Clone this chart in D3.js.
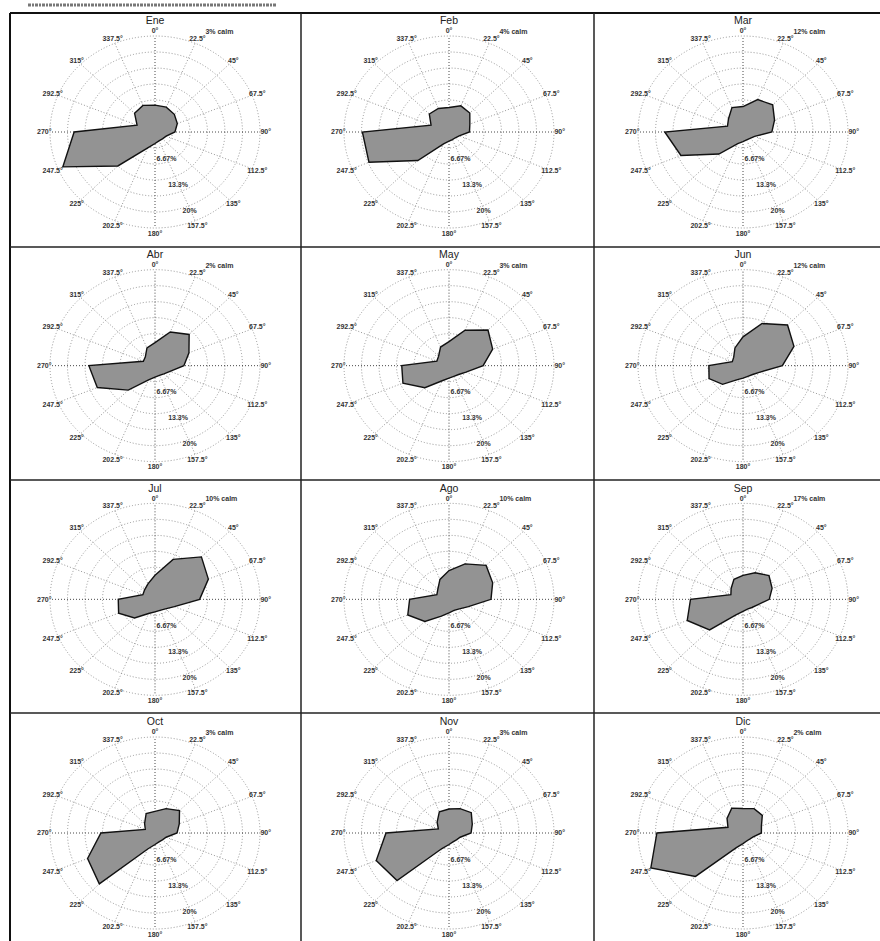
<!DOCTYPE html>
<html>
<head>
<meta charset="utf-8">
<script src="https://cdn.jsdelivr.net/npm/d3@7"></script>
<style>
body { margin: 0; background: #fff; }
svg { opacity: 0.999; }
text { font-family: Arial, "Liberation Sans", sans-serif; }
</style>
</head>
<body>
<script>
// wind direction frequency (%) per month, 16 sectors starting at north
var months = ["Ene","Feb","Mar","Abr","May","Jun","Jul","Ago","Sep","Oct","Nov","Dic"];
var directions = [0,22.5,45,67.5,90,112.5,135,157.5,180,202.5,225,247.5,270,292.5,315,337.5];

var ene = [5.6,5.6,5.2,4.6,3.8,2.3,2.0,2.0,2.4,3.6,10.0,19.0,15.4,3.7,5.5,6.0];
var feb = [5.1,5.9,5.6,4.3,3.9,2.1,1.7,1.7,1.9,2.7,8.4,16.5,16.5,3.7,5.3,5.3];
var mar = [5.3,7.3,8.0,6.5,5.5,2.4,1.9,1.8,2.0,2.6,6.5,12.8,14.9,3.2,3.9,5.5];
var abr = [4.8,7.6,9.2,7.0,5.5,3.1,2.4,2.2,2.4,3.2,7.2,11.9,12.6,2.4,2.6,4.0];
var may = [5.0,8.0,10.5,9.0,6.5,3.5,2.6,2.4,2.6,3.4,6.5,9.5,9.0,2.5,2.8,4.2];
var jun = [6.0,9.5,12.0,10.5,7.5,3.5,2.6,2.4,2.6,3.2,5.5,7.0,6.5,2.2,2.5,4.0];
var jul = [5.0,9.0,12.5,11.0,8.5,4.0,2.8,2.5,2.6,3.2,5.5,7.5,7.0,2.5,2.8,3.5];
var ago = [6.0,8.0,10.0,9.0,8.0,4.0,2.8,2.5,2.8,3.8,6.5,8.5,7.5,2.5,3.0,4.5];
var sep = [5.0,6.0,7.0,6.0,5.0,3.0,2.4,2.2,2.5,3.5,9.0,11.5,10.0,2.5,3.2,4.5];
var oct = [4.5,5.5,6.6,5.0,4.2,2.3,2.0,2.0,2.4,3.6,15.0,13.9,10.3,2.0,2.8,4.4];
var nov = [5.0,5.5,6.0,4.8,4.2,2.3,2.0,2.0,2.4,3.5,14.0,15.0,12.0,2.2,3.2,4.8];
var dic = [5.1,5.5,5.2,3.8,3.5,2.1,1.8,1.8,2.2,3.3,12.8,19.0,16.4,3.1,4.3,5.6];
var series = [ene,feb,mar,abr,may,jun,jul,ago,sep,oct,nov,dic];

var calm = [3,4,12,2,3,12,10,10,17,3,3,2];

var rings = [3.33,6.67,10,13.33,16.67,20];
var ringTicks = [6.67,13.33,20];
var ringLabels = ["6.67%","13.3%","20%"];

var width = 880, height = 941;

var svg = d3.select("body").append("svg")
	.attr("width", width)
	.attr("height", height);

// panel centres
var colX = d3.scaleLinear().domain([0,2]).range([155,743]);
var rowY = d3.scaleLinear().domain([0,3]).range([132,833]);

// the scan is a bit squashed vertically, so two radial scales
var rx = d3.scaleLinear().domain([0,20]).range([0,105]);
var ry = d3.scaleLinear().domain([0,20]).range([0,96]);

function px(a, v){ return rx(v) * Math.sin(a * Math.PI / 180); }
function py(a, v){ return -ry(v) * Math.cos(a * Math.PI / 180); }

// scanned caption remnant at the top
svg.append("line")
	.attr("x1", 28).attr("x2", 276).attr("y1", 5).attr("y2", 5)
	.attr("stroke", "#777").attr("stroke-width", 3)
	.attr("stroke-dasharray", "3,1,2,1");

// table lines
svg.append("line").attr("x1", 10).attr("x2", 880).attr("y1", 13).attr("y2", 13)
	.attr("stroke", "#111").attr("stroke-width", 2);
svg.append("line").attr("x1", 10).attr("x2", 10).attr("y1", 13).attr("y2", 941)
	.attr("stroke", "#111").attr("stroke-width", 2);
[301, 594].forEach(function(x){
	svg.append("line").attr("x1", x).attr("x2", x).attr("y1", 13).attr("y2", 941)
		.attr("stroke", "#222").attr("stroke-width", 1.5);
});
[247, 480, 713].forEach(function(y){
	svg.append("line").attr("x1", 10).attr("x2", 880).attr("y1", y).attr("y2", y)
		.attr("stroke", "#222").attr("stroke-width", 1.5);
});

var line = d3.line()
	.x(function(d){ return px(d.a, d.v); })
	.y(function(d){ return py(d.a, d.v); })
	.curve(d3.curveLinearClosed);

months.forEach(function(m, i){
	var g = svg.append("g")
		.attr("transform", "translate(" + colX(i % 3) + "," + rowY(Math.floor(i / 3)) + ")");

	// rings
	g.selectAll("ellipse").data(rings).enter().append("ellipse")
		.attr("rx", function(d){ return rx(d); })
		.attr("ry", function(d){ return ry(d); })
		.attr("fill", "none")
		.attr("stroke", "#8a8a8a")
		.attr("stroke-width", 0.9)
		.attr("stroke-dasharray", "1,2");

	// spokes
	g.selectAll("line.spoke").data(directions).enter().append("line")
		.attr("class", "spoke")
		.attr("x1", 0).attr("y1", 0)
		.attr("x2", function(d){ return px(d, 20); })
		.attr("y2", function(d){ return py(d, 20); })
		.attr("stroke", function(d){ return d % 90 == 0 ? "#333" : "#8a8a8a"; })
		.attr("stroke-width", 0.9)
		.attr("stroke-dasharray", "1,2");

	// frequency polygon
	var pts = directions.map(function(a, k){ return {a: a, v: series[i][k]}; });
	g.append("path")
		.attr("d", line(pts))
		.attr("fill", "#939393")
		.attr("stroke", "#111")
		.attr("stroke-width", 1.4)
		.attr("stroke-linejoin", "miter");

	// direction labels
	g.selectAll("text.dir").data(directions).enter().append("text")
		.attr("class", "dir")
		.attr("x", function(d){ return px(d, 21.1); })
		.attr("y", function(d){ return py(d, 21.1); })
		.attr("dy", "0.35em")
		.attr("text-anchor", "middle")
		.attr("font-size", 7)
		.attr("font-weight", "bold")
		.attr("fill", "#333")
		.text(function(d){ return d + "\u00b0"; });

	// ring labels
	g.selectAll("text.ring").data(ringTicks).enter().append("text")
		.attr("class", "ring")
		.attr("x", function(d){ return px(158, d * 0.88); })
		.attr("y", function(d){ return py(158, d * 0.88); })
		.attr("dy", "0.35em")
		.attr("text-anchor", "middle")
		.attr("font-size", 7)
		.attr("font-weight", "bold")
		.attr("fill", "#333")
		.text(function(d, k){ return ringLabels[k]; });

	// calm
	g.append("text")
		.attr("x", rx(9.6))
		.attr("y", -ry(20.9))
		.attr("dy", "0.35em")
		.attr("font-size", 7)
		.attr("font-weight", "bold")
		.attr("fill", "#333")
		.text(calm[i] + "% calm");

	// month title
	g.append("text")
		.attr("x", 0)
		.attr("y", -ry(22.4))
		.attr("text-anchor", "middle")
		.attr("font-size", 10.5)
		.attr("fill", "#222")
		.text(m);
});
</script>
</body>
</html>
